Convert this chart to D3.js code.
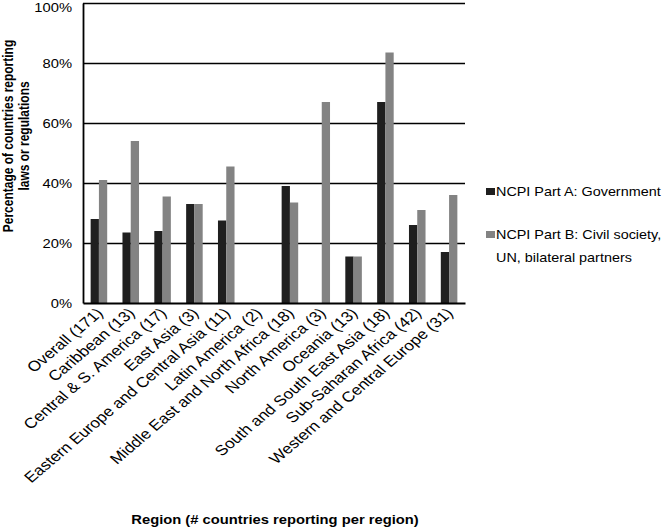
<!DOCTYPE html>
<html>
<head>
<meta charset="utf-8">
<script src="https://cdn.jsdelivr.net/npm/d3@7"></script>
<style>
  body { margin: 0; background: #fff; }
  svg text { font-family: "Liberation Sans", Arial, Helvetica, sans-serif; fill: #000; }
  .y-tick text { font-size: 12.5px; }
  .x-tick text { font-size: 14.5px; }
  .ax-title { font-size: 12.5px; font-weight: bold; }
  .y-title { font-size: 12px; font-weight: bold; }
  .legend text { font-size: 12.2px; }
</style>
</head>
<body>
<svg id="chart"></svg>
<script>
const regions = [
  "Overall (171)",
  "Caribbean (13)",
  "Central & S. America (17)",
  "East Asia (3)",
  "Eastern Europe and Central Asia (11)",
  "Latin America (2)",
  "Middle East and North Africa (18)",
  "North America (3)",
  "Oceania (13)",
  "South and South East Asia (18)",
  "Sub-Saharan Africa (42)",
  "Western and Central Europe (31)",
];
const partA = [28, 23.5, 24, 33, 27.5, 0, 39, 0, 15.5, 67, 26, 17];
const partB = [41, 54, 35.5, 33, 45.5, 0, 33.5, 67, 15.5, 83.5, 31, 36];
const seriesNames = [
  "NCPI Part A: Government",
  "NCPI Part B: Civil society, UN, bilateral partners",
];
const yTicks = [0, 20, 40, 60, 80, 100];

const width = 670, height = 530;
const margin = { top: 3, left: 83, right: 205, bottom: 227 };
const inner_right = width - margin.right;
const inner_bottom = height - margin.bottom;
// the reference type looks a little wider than it is tall
const SX = 1.18;

const svg = d3.select("#chart").attr("width", width).attr("height", height);

const X = d3.scaleBand()
  .domain(regions)
  .range([margin.left, inner_right])
  .paddingInner(0.48)
  .paddingOuter(0.24);
const Xs = d3.scaleBand().domain(["A", "B"]).range([0, X.bandwidth()]);
const Y = d3.scaleLinear().domain([0, 100]).range([inner_bottom, margin.top]);
const color = { A: "#1f1f1f", B: "#838383" };

// grid lines
svg.append("g")
  .attr("class", "grid")
  .attr("transform", `translate(${margin.left},0)`)
  .call(d3.axisLeft(Y).tickValues(yTicks.slice(1)).tickSize(-(inner_right - margin.left)).tickFormat(""))
  .call((g) => g.select(".domain").remove())
  .call((g) => g.selectAll("line").attr("stroke", "#000").attr("stroke-width", 1.6));

// bars
const rows = regions.map((r, i) => ({ region: r, A: partA[i], B: partB[i] }));
const groups = svg.append("g").attr("id", "bars")
  .selectAll("g")
  .data(rows)
  .join("g")
  .attr("transform", (d) => `translate(${X(d.region)},0)`);
groups.selectAll("rect")
  .data((d) => ["A", "B"].map((k) => ({ k, v: d[k] })))
  .join("rect")
  .attr("x", (d) => Xs(d.k))
  .attr("width", Xs.bandwidth())
  .attr("y", (d) => Y(d.v))
  .attr("height", (d) => Y(0) - Y(d.v))
  .attr("fill", (d) => color[d.k]);

// y axis
svg.append("g")
  .attr("class", "y-tick")
  .attr("transform", `translate(${margin.left},0)`)
  .call(d3.axisLeft(Y).tickValues(yTicks).tickSize(0).tickPadding(0).tickFormat((d) => d + "%"))
  .call((g) => g.select(".domain").attr("stroke", "#000").attr("stroke-width", 1.8))
  .call((g) => g.selectAll("text")
    .attr("x", 0)
    .attr("dy", (d) => (d === 100 ? "0.68em" : "0.32em"))
    .attr("transform", `translate(-11,0) scale(${SX},1)`)
    .attr("fill", "#222"));

// x axis
svg.append("g")
  .attr("class", "x-tick")
  .attr("transform", `translate(0,${inner_bottom})`)
  .call(d3.axisBottom(X).tickSize(0).tickSizeOuter(0).tickPadding(0))
  .call((g) => g.select(".domain").attr("stroke", "#000").attr("stroke-width", 2))
  .call((g) => g.selectAll("text")
    .attr("text-anchor", "end")
    .attr("y", 0)
    .attr("dy", 0)
    .attr("transform", `translate(5,11) scale(${SX},1) rotate(-45)`)
    .attr("fill", "#222"));

// axis titles
const yTitle = svg.append("text")
  .attr("class", "y-title")
  .attr("text-anchor", "middle")
  .attr("transform", `translate(13,136) scale(${SX},1) rotate(-90)`);
yTitle.append("tspan").attr("x", 0).attr("y", 0).text("Percentage of countries reporting");
yTitle.append("tspan").attr("x", 0).attr("y", 13.5).text("laws or regulations");

svg.append("text")
  .attr("class", "ax-title")
  .attr("text-anchor", "middle")
  .attr("transform", `translate(275,524) scale(${SX},1)`)
  .text("Region (# countries reporting per region)");

// legend
const legend = svg.append("g").attr("class", "legend");
const legendItems = [
  { k: "A", lines: [seriesNames[0]], y: 196 },
  { k: "B", lines: ["NCPI Part B: Civil society,", "UN, bilateral partners"], y: 239 },
];
const li = legend.selectAll("g")
  .data(legendItems)
  .join("g")
  .attr("transform", (d) => `translate(486,${d.y})`);
li.append("rect")
  .attr("x", 0)
  .attr("y", -8)
  .attr("width", 9)
  .attr("height", 7)
  .attr("fill", (d) => color[d.k]);
li.append("text")
  .attr("transform", `translate(10,0) scale(${SX},1)`)
  .selectAll("tspan")
  .data((d) => d.lines)
  .join("tspan")
  .attr("x", 0)
  .attr("y", (d, i) => i * 23)
  .text((d) => d);
</script>
</body>
</html>
